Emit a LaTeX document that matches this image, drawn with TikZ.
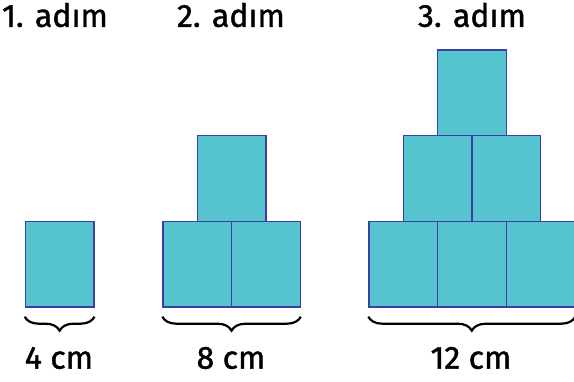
\documentclass[tikz,border=0pt]{standalone}
\usepackage{fontspec}
\setmainfont{Fira Sans}[FakeBold=1.3]
\usetikzlibrary{decorations.pathreplacing}
\definecolor{kutumavi}{HTML}{55C4CE}
\definecolor{kenarmavi}{HTML}{3A3EA6}
\tikzset{
  kutu/.style={draw=kenarmavi,fill=kutumavi,line width=1.3pt,inner sep=0pt,
    minimum width=68.5pt,minimum height=85.7pt,anchor=south west},
  baslik/.style={font=\fontsize{32}{38}\selectfont},
  olcu/.style={font=\fontsize{32}{38}\selectfont},
  parantez/.style={decorate,decoration={brace,mirror,amplitude=14pt},line width=2.2pt}
}
\begin{document}
\begin{tikzpicture}[x=1pt,y=1pt]
\useasboundingbox (0,0) rectangle (574,381);

% 1. adim
\node[kutu] (a1) at (24.7,73.3) {};
\node[baslik] (b1) at (55,366) {1. adım};
\draw[parantez] ([yshift=-9pt]a1.south west) -- ([yshift=-9pt]a1.south east);
\node[olcu] (u1) at (59,23) {4 cm};

% 2. adim
\node[kutu] (a21) at (162.3,73.3) {};
\node[kutu] (a22) at (231,73.3) {};
\node[kutu] (a23) at (196.7,159) {};
\node[baslik] (b2) at (231,366) {2. adım};
\draw[parantez] ([yshift=-9pt]a21.south west) -- ([yshift=-9pt]a22.south east);
\node[olcu] (u2) at (231,23) {8 cm};

% 3. adim
\node[kutu] (a31) at (368.3,73.3) {};
\node[kutu] (a32) at (437,73.3) {};
\node[kutu] (a33) at (505.5,73.3) {};
\node[kutu] (a34) at (402.7,159) {};
\node[kutu] (a35) at (471.2,159) {};
\node[kutu] (a36) at (437,244.7) {};
\node[baslik] (b3) at (472,366) {3. adım};
\draw[parantez] ([yshift=-9pt]a31.south west) -- ([yshift=-9pt]a33.south east);
\node[olcu] (u3) at (471,23) {12 cm};
\end{tikzpicture}
\end{document}
